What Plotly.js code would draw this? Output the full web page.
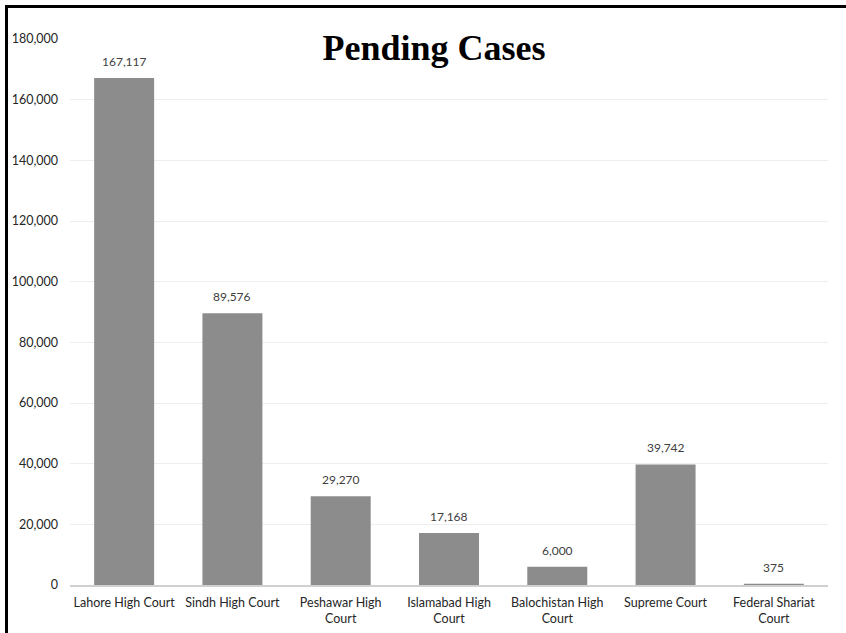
<!DOCTYPE html>
<html><head><meta charset="utf-8">
<script src="https://cdn.plot.ly/plotly-3.0.1.min.js"></script>
<style>
html,body{margin:0;padding:0;background:#fff;}
#wrap{position:relative;width:846px;height:633px;overflow:hidden;}
#chart{position:absolute;left:0;top:0;width:846px;height:633px;}
.bl{position:absolute;left:5px;top:5px;width:3px;height:640px;background:#000;}
.bt{position:absolute;left:5px;top:5px;width:850px;height:3px;background:#000;}
</style></head>
<body>
<div id="wrap"><div id="chart"></div><div class="bl"></div><div class="bt"></div></div>
<script>
const courts = ["Lahore High Court","Sindh High Court","Peshawar High<br>Court","Islamabad High<br>Court","Balochistan High<br>Court","Supreme Court","Federal Shariat<br>Court"];
const pendingCases = [167117, 89576, 29270, 17168, 6000, 39742, 375];
const yTickVals = [0,20000,40000,60000,80000,100000,120000,140000,160000,180000];

const FONT = 'Lato, "Open Sans", sans-serif';
const trace = {
  type: 'bar',
  x: courts,
  y: pendingCases,
  marker: {color: '#8c8c8c'},
  hoverinfo: 'none'
};
const labels = courts.map((c, i) => ({
  x: c, y: pendingCases[i], xref: 'x', yref: 'y',
  text: pendingCases[i].toLocaleString('en-US'),
  showarrow: false, yanchor: 'bottom', yshift: 7,
  font: {family: FONT, size: 12, color: '#404040'}
}));
const layout = {
  width: 846, height: 633,
  margin: {l: 70, r: 18, t: 39, b: 48},
  paper_bgcolor: 'rgba(0,0,0,0)', plot_bgcolor: '#fff',
  bargap: 0.446,
  showlegend: false,
  annotations: labels,
  title: {text: '<b>Pending Cases</b>', x: 0.513, xanchor: 'center', y: 0.925, yanchor: 'middle',
          font: {family: '"Liberation Serif", "DejaVu Serif", serif', size: 36, color: '#000'}},
  xaxis: {
    showgrid: false, showline: true, linecolor: '#d0d0d0', linewidth: 1.5,
    ticks: '', ticklabelstandoff: 5,
    tickfont: {family: FONT, size: 12.5, color: '#262626'},
    fixedrange: true
  },
  yaxis: {
    range: [0, 180000], tickvals: yTickVals, tickformat: ',d',
    showgrid: true, gridcolor: '#eeeeee', gridwidth: 1, zeroline: false, showline: false,
    ticks: '', ticklabelstandoff: 11,
    tickfont: {family: FONT, size: 12.5, color: '#262626'},
    fixedrange: true
  }
};
Plotly.newPlot('chart', [trace], layout, {displayModeBar: false, staticPlot: true});
</script>
</body></html>
